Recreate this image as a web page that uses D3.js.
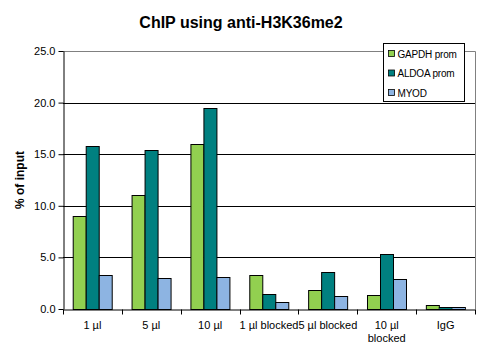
<!DOCTYPE html>
<html>
<head>
<meta charset="utf-8">
<script src="https://cdn.jsdelivr.net/npm/d3@7"></script>
<style>
  body { margin: 0; background: #fff; }
  text { font-family: "Liberation Sans", Arial, sans-serif; }
</style>
</head>
<body>
<div id="chart"></div>
<script>
// data
const categories = ["1 µl", "5 µl", "10 µl", "1 µl blocked", "5 µl blocked", "10 µl\nblocked", "IgG"];
const seriesNames = ["GAPDH prom", "ALDOA prom", "MYOD"];
const gapdh = [9.0, 11.05, 15.95, 3.3, 1.85, 1.35, 0.4];
const aldoa = [15.75, 15.45, 19.5, 1.45, 3.6, 5.35, 0.18];
const myod = [3.3, 3.0, 3.1, 0.7, 1.3, 2.95, 0.18];
const colors = ["#92d050", "#008080", "#8db4e2"];
const yTicks = [0, 5, 10, 15, 20, 25];

const width = 497, height = 352;
const margin = { top: 51, right: 22, bottom: 43, left: 63 };

const svg = d3.select("#chart").append("svg")
    .attr("width", width)
    .attr("height", height);

const x = d3.scaleBand()
    .domain(categories)
    .range([margin.left, width - margin.right])
    .paddingInner(0.33)
    .paddingOuter(0.165);

const xOuter = d3.scaleBand()
    .domain(categories)
    .range([margin.left, width - margin.right]);

const xInner = d3.scaleBand()
    .domain(seriesNames)
    .range([0, x.bandwidth()]);

const y = d3.scaleLinear()
    .domain([0, 25])
    .range([height - margin.bottom, margin.top]);

// gridlines
svg.append("g")
    .selectAll("line")
    .data(yTicks.filter(d => d > 0 && d < 25))
    .join("line")
    .attr("x1", margin.left)
    .attr("x2", width - margin.right)
    .attr("y1", d => Math.round(y(d)) + 0.5)
    .attr("y2", d => Math.round(y(d)) + 0.5)
    .attr("stroke", "#000");

// plot area border (top and right)
svg.append("path")
    .attr("d", `M${margin.left},${Math.round(y(25)) + 0.5}H${width - margin.right + 0.5}V${y(0)}`)
    .attr("fill", "none")
    .attr("stroke", "#808080");

// bars
const allSeries = [gapdh, aldoa, myod];
const rows = categories.map((c, i) => ({ cat: c, vals: allSeries.map((s, k) => ({ name: seriesNames[k], v: s[i], k: k })) }));

svg.append("g")
    .selectAll("g")
    .data(rows)
    .join("g")
    .attr("transform", d => `translate(${x(d.cat)},0)`)
    .selectAll("rect")
    .data(d => d.vals)
    .join("rect")
    .attr("x", d => Math.round(xInner(d.name)) + 0.5)
    .attr("width", Math.round(xInner.bandwidth()))
    .attr("y", d => Math.round(y(d.v)) + 0.5)
    .attr("height", d => Math.round(y(0)) - Math.round(y(d.v)))
    .attr("fill", d => colors[d.k])
    .attr("stroke", "#000")
    .attr("stroke-width", 1);

// y axis
const yAxis = svg.append("g")
    .attr("transform", `translate(${margin.left + 0.5},0)`)
    .call(d3.axisLeft(y).tickValues(yTicks).tickFormat(d3.format(".1f")).tickSize(5).tickSizeOuter(0));
yAxis.select(".domain").attr("stroke", "#000");
yAxis.selectAll("text").attr("font-size", 11).attr("fill", "#000").attr("x", -8)
    .attr("font-family", "Liberation Sans, Arial, sans-serif");

// x axis
const xAxis = svg.append("g")
    .attr("transform", `translate(0,${Math.round(y(0)) + 0.5})`)
    .call(d3.axisBottom(xOuter).tickSize(5).tickSizeOuter(0).tickFormat(""));
xAxis.select(".domain").attr("stroke", "#000");
xAxis.selectAll(".tick").remove();
// category boundary ticks
const bounds = categories.map(c => xOuter(c)).concat([width - margin.right]);
xAxis.selectAll("line.b")
    .data(bounds)
    .join("line")
    .attr("class", "b")
    .attr("x1", d => Math.round(d) + 0.5)
    .attr("x2", d => Math.round(d) + 0.5)
    .attr("y1", 0)
    .attr("y2", 5)
    .attr("stroke", "#000");

const labels = svg.append("g");
categories.forEach(c => {
    const lines = c.split("\n");
    const t = labels.append("text")
        .attr("x", xOuter(c) + xOuter.bandwidth() / 2)
        .attr("y", y(0) + 20)
        .attr("text-anchor", "middle")
        .attr("font-size", 11)
        .attr("fill", "#000");
    lines.forEach((l, i) => {
        t.append("tspan")
            .attr("x", xOuter(c) + xOuter.bandwidth() / 2)
            .attr("dy", i === 0 ? 0 : 13)
            .text(l);
    });
});

// axis title
svg.append("text")
    .attr("transform", `translate(24,${(y(0) + y(25)) / 2}) rotate(-90)`)
    .attr("text-anchor", "middle")
    .attr("font-size", 12)
    .attr("font-weight", "bold")
    .text("% of input");

// chart title
svg.append("text")
    .attr("x", 241)
    .attr("y", 28)
    .attr("text-anchor", "middle")
    .attr("font-size", 16)
    .attr("font-weight", "bold")
    .text("ChIP using anti-H3K36me2");

// legend
const legend = svg.append("g").attr("transform", "translate(383.5,43.5)");
legend.append("rect")
    .attr("width", 81)
    .attr("height", 58)
    .attr("fill", "#fff")
    .attr("stroke", "#000");
seriesNames.forEach((n, i) => {
    legend.append("rect")
        .attr("x", 5)
        .attr("y", 7 + i * 19.5)
        .attr("width", 6)
        .attr("height", 6)
        .attr("fill", colors[i])
        .attr("stroke", "#000")
        .attr("stroke-width", 0.8);
    legend.append("text")
        .attr("x", 14)
        .attr("y", 14 + i * 19.5)
        .attr("font-size", 10)
        .attr("letter-spacing", -0.2)
        .attr("fill", "#000")
        .text(n);
});
</script>
</body>
</html>
